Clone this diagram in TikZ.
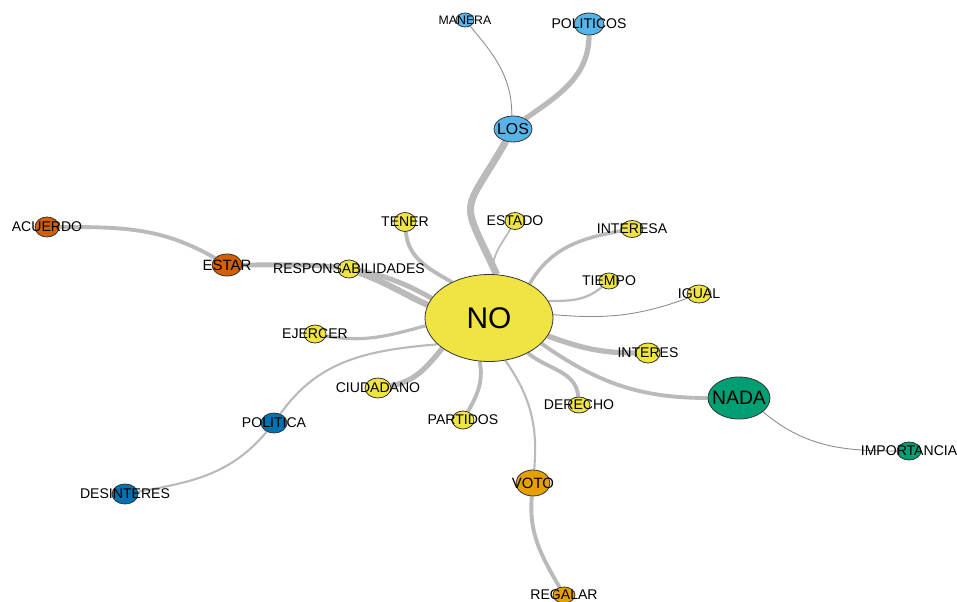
\documentclass[tikz,border=0pt]{standalone}
\usepackage{fontspec}
\setmainfont{Liberation Sans}
\usepackage{tikz}
\usetikzlibrary{shapes.geometric,backgrounds}
\definecolor{yel}{HTML}{F0E442}
\definecolor{sky}{HTML}{56B4E9}
\definecolor{verm}{HTML}{D55E00}
\definecolor{teal}{HTML}{009E73}
\definecolor{orng}{HTML}{E69F00}
\definecolor{dblue}{HTML}{0072B2}
\begin{document}
\begin{tikzpicture}[x=0.2mm, y=0.2mm,
		vtx/.style={ellipse, draw=black!80, line width=0.45pt, inner sep=0pt, fill=#1},
		sz/.style 2 args={minimum width=#1*0.2mm, minimum height=#2*0.2mm},
		every label/.style={font=\fontsize{8}{9}\selectfont, text=black, inner sep=0pt},
		link/.style={draw=black!27, line width=#1},
		thinlink/.style={draw=black!45, line width=0.5pt}]
		\useasboundingbox (0,0) rectangle (957,601);
		% centre
		\node[vtx=yel, sz={128}{87}, label={[font=\fontsize{17}{19}\selectfont]center:NO}] (no) at (489,283) {};
		% LOS group
		\node[vtx=sky, sz={38}{26}, label={[font=\fontsize{9}{10}\selectfont]center:LOS}] (los) at (513,472) {};
		\node[vtx=sky, sz={18}{14}, label={[font=\fontsize{7}{8}\selectfont]center:MANERA}] (manera) at (465,581) {};
		\node[vtx=sky, sz={30}{22}, label=center:POLITICOS] (politicos) at (589,577) {};
		% yellow words
		\node[vtx=yel, sz={22}{19}, label=center:TENER] (tener) at (405,379) {};
		\node[vtx=yel, sz={20}{17}, label=center:ESTADO] (estado) at (515,380) {};
		\node[vtx=yel, sz={22}{17}, label=center:INTERESA] (interesa) at (632,372) {};
		\node[vtx=yel, sz={20}{16}, label=center:TIEMPO] (tiempo) at (609,320) {};
		\node[vtx=yel, sz={24}{18}, label=center:IGUAL] (igual) at (699,307) {};
		\node[vtx=yel, sz={24}{20}, label=center:INTERES] (interes) at (648,248) {};
		\node[vtx=yel, sz={22}{16}, label=center:DERECHO] (derecho) at (579,196) {};
		\node[vtx=yel, sz={22}{18}, label=center:PARTIDOS] (partidos) at (463,181) {};
		\node[vtx=yel, sz={26}{20}, label=center:CIUDADANO] (ciudadano) at (378,213) {};
		\node[vtx=yel, sz={22}{18}, label=center:EJERCER] (ejercer) at (315,267) {};
		\node[vtx=yel, sz={22}{18}, label=center:RESPONSABILIDADES] (resp) at (349,332) {};
		% NADA group
		\node[vtx=teal, sz={62}{42}, label={[font=\fontsize{11}{12}\selectfont]center:NADA}] (nada) at (739,203) {};
		\node[vtx=teal, sz={24}{18}, label=center:IMPORTANCIA] (importancia) at (909,150) {};
		% VOTO group
		\node[vtx=orng, sz={34}{26}, label={[font=\fontsize{8.5}{9}\selectfont]center:VOTO}] (voto) at (533,118) {};
		\node[vtx=orng, sz={22}{16}, label=center:REGALAR] (regalar) at (564,6) {};
		% POLITICA group
		\node[vtx=dblue, sz={26}{20}, label=center:POLITICA] (politica) at (274,178) {};
		\node[vtx=dblue, sz={26}{20}, label=center:DESINTERES] (desinteres) at (125,107) {};
		% ESTAR group
		\node[vtx=verm, sz={30}{22}, label={[font=\fontsize{8.5}{9}\selectfont]center:ESTAR}] (estar) at (227,336) {};
		\node[vtx=verm, sz={24}{20}, label=center:ACUERDO] (acuerdo) at (47,374) {};
		\begin{scope}[on background layer]
			\draw[link=4pt] (no.80) to[out=115, in=-120, looseness=1.7] (los);
			\draw[thinlink] (los.95) to[out=90, in=-50] (manera);
			\draw[link=3pt] (los.40) to[out=35, in=-90] (politicos);
			\draw[link=2.2pt] (no.136) to[out=150, in=-85] (tener);
			\draw[link=1pt] (no.85) to[out=95, in=-120] (estado);
			\draw[link=2pt] (no.40) to[out=60, in=190] (interesa);
			\draw[link=1.3pt] (no.16) to[out=0, in=-140] (tiempo);
			\draw[thinlink] (no.3) to[out=-5, in=200] (igual);
			\draw[link=3pt] (no.-17) to[out=-20, in=180] (interes);
			\draw[link=2.2pt] (no.-26) to[out=-35, in=180] (nada);
			\draw[thinlink] (nada.-30) to[out=-40, in=180] (importancia);
			\draw[link=2.2pt] (no.-42) to[out=-40, in=95] (derecho);
			\draw[link=1.2pt] (no.-69) to[out=-55, in=85] (voto);
			\draw[link=2.2pt] (voto.-95) to[out=-95, in=120] (regalar);
			\draw[link=2.2pt] (no.-102) to[out=-80, in=60] (partidos);
			\draw[link=3pt] (no.213) to[out=-130, in=10] (ciudadano);
			\draw[link=1.2pt] (no.207) to[out=185, in=55] (politica);
			\draw[link=1.2pt] (politica) to[out=-130, in=10] (desinteres);
			\draw[link=1.8pt] (no.187) to[out=195, in=-10] (ejercer);
			\draw[link=3.5pt] (no.168) to[out=155, in=-20] (resp);
			\draw[link=2.8pt] (no.161) to[out=150, in=0] (estar);
			\draw[link=2.2pt] (estar) to[out=150, in=0] (acuerdo);
		\end{scope}
	\end{tikzpicture}
\end{document}
